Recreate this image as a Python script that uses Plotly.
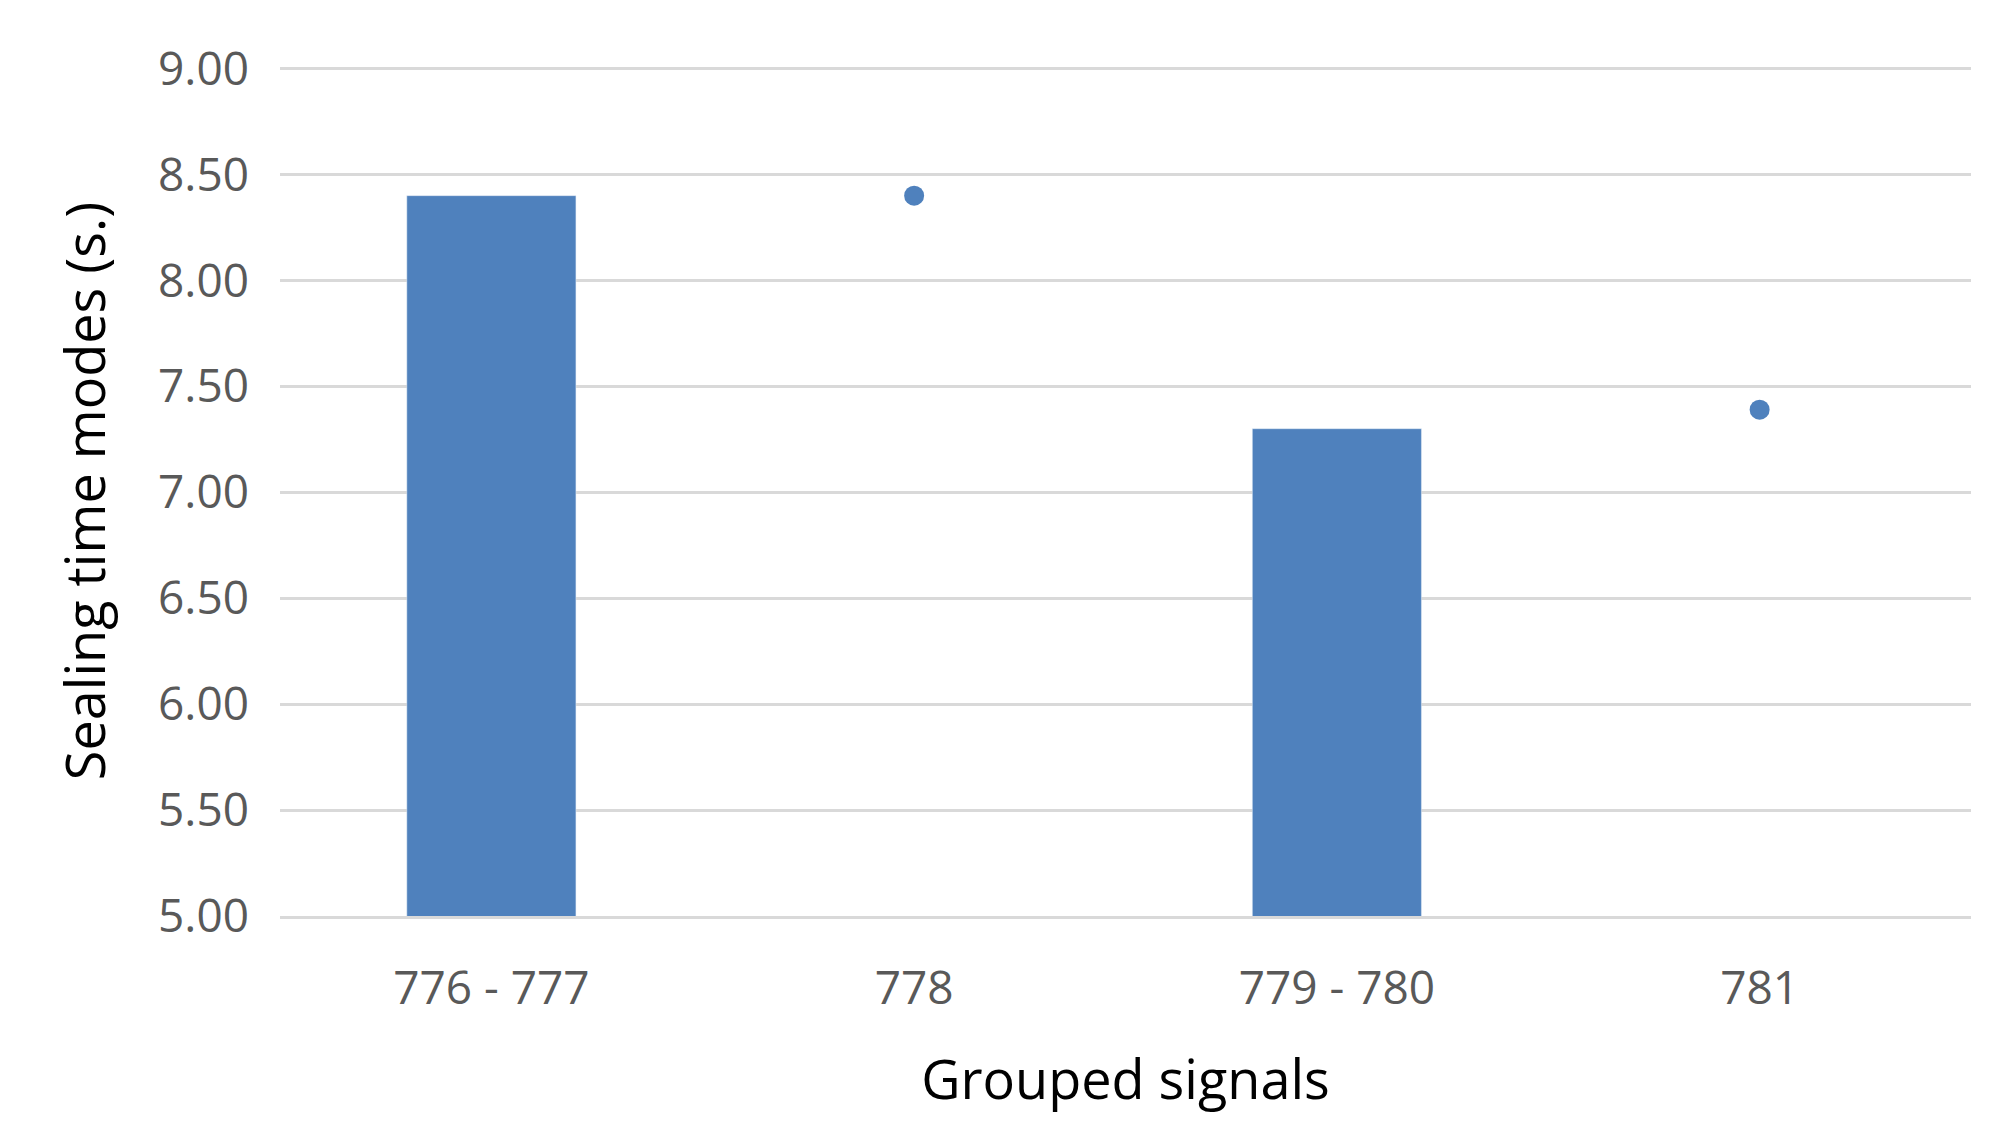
import plotly.graph_objects as go

categories = ["776 - 777", "778", "779 - 780", "781"]
bar_cats = ["776 - 777", "779 - 780"]
bar_vals = [8.40, 7.30]
pt_cats = ["778", "781"]
pt_vals = [8.40, 7.39]
yticks = [5.0, 5.5, 6.0, 6.5, 7.0, 7.5, 8.0, 8.5, 9.0]

color = "#4F81BD"
fig = go.Figure()
fig.add_bar(x=bar_cats, y=bar_vals, marker_color=color, width=0.4, base=0)
fig.add_scatter(x=pt_cats, y=pt_vals, mode="markers", marker=dict(color=color, size=20))
fig.update_layout(
    width=1998, height=1148, plot_bgcolor="white", paper_bgcolor="white",
    showlegend=False, margin=dict(l=272, r=35, t=58, b=240),
    font=dict(family="Open Sans, DejaVu Sans", color="#595959", size=46),
)
fig.update_xaxes(type="category", categoryorder="array", categoryarray=categories,
                 range=[-0.5, 3.5], showline=True, linecolor="#D9D9D9", linewidth=3,
                 ticks="outside", ticklen=30, tickcolor="rgba(0,0,0,0)",
                 title=dict(text="Grouped signals", font=dict(size=54, color="black"), standoff=45))
fig.update_yaxes(range=[5.0, 9.012], tickvals=yticks, tickformat=".2f", gridcolor="#D9D9D9",
                 gridwidth=3, zeroline=False, ticks="", ticklabelstandoff=30,
                 title=dict(text="Sealing time modes (s.)", font=dict(size=54, color="black"), standoff=35))
fig.write_html("out.html")
